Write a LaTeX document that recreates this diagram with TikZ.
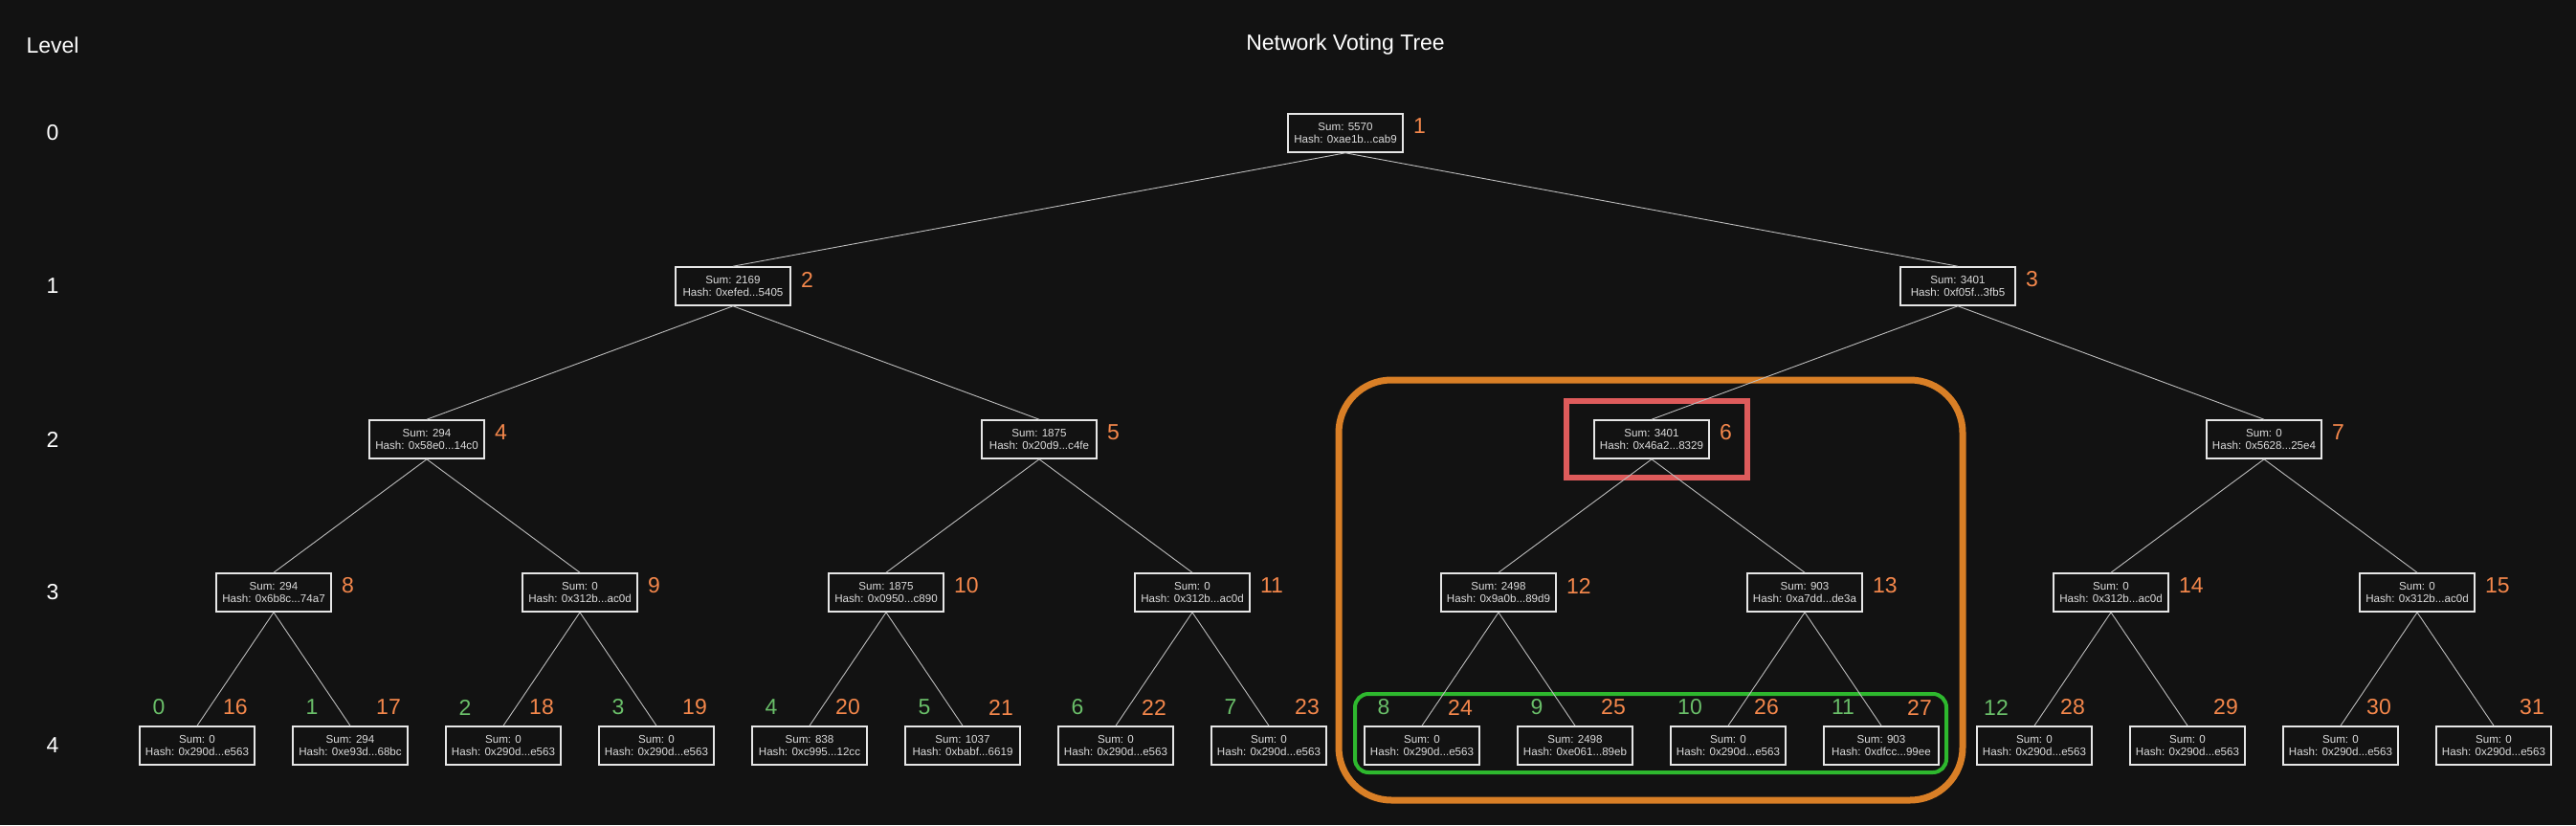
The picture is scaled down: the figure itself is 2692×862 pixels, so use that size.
\documentclass[tikz,border=0pt]{standalone}
\usepackage{fontspec}
\setmainfont{Liberation Sans}
\usetikzlibrary{backgrounds}
\definecolor{bgdark}{HTML}{121212}
\definecolor{boxline}{HTML}{E6E6E6}
\definecolor{boxtext}{HTML}{DCDCDC}
\definecolor{edgegray}{HTML}{BDBDBD}
\definecolor{idorange}{HTML}{F4874B}
\definecolor{leafgreen}{HTML}{6ABF69}
\definecolor{frameorange}{HTML}{D97F26}
\definecolor{framered}{HTML}{DE5B5B}
\definecolor{framegreen}{HTML}{2EB82E}
\newcommand{\hcut}{...}
\tikzset{
  votebox/.style={draw=boxline, line width=1.6pt, fill=bgdark, text=boxtext,
    minimum width=120pt, minimum height=40pt, inner sep=0pt, align=center,
    font=\fontsize{11.6}{13.5}\selectfont},
  edge/.style={draw=edgegray, line width=0.9pt},
  idlab/.style={text=idorange, font=\fontsize{23}{26}\selectfont, inner sep=0pt},
  leaflab/.style={text=leafgreen, font=\fontsize{23}{26}\selectfont, inner sep=0pt},
  levellab/.style={text=white, font=\fontsize{23}{26}\selectfont, inner sep=0pt}
}
\begin{document}
\begin{tikzpicture}[x=1pt,y=-1pt]
  \useasboundingbox (0,0) rectangle (2692,862);
  \node[levellab] (title) at (1406,47) {Network Voting Tree};
  \node[levellab] (lvl) at (55,47) {Level};
  \foreach \l in {0,...,4}
    \node[levellab] (lv\l) at (55,139+160*\l) {\l};
  % tree nodes
  \foreach \n/\x/\y/\s/\h in {1/1406/139/5570/0xae1b\hcut cab9,
      2/766/299/2169/0xefed\hcut 5405, 3/2046/299/3401/0xf05f\hcut 3fb5,
      4/446/459/294/0x58e0\hcut 14c0, 5/1086/459/1875/0x20d9\hcut c4fe,
      6/1726/459/3401/0x46a2\hcut 8329, 7/2366/459/0/0x5628\hcut 25e4,
      8/286/619/294/0x6b8c\hcut 74a7, 9/606/619/0/0x312b\hcut ac0d,
      10/926/619/1875/0x0950\hcut c890, 11/1246/619/0/0x312b\hcut ac0d,
      12/1566/619/2498/0x9a0b\hcut 89d9, 13/1886/619/903/0xa7dd\hcut de3a,
      14/2206/619/0/0x312b\hcut ac0d, 15/2526/619/0/0x312b\hcut ac0d,
      16/206/779/0/0x290d\hcut e563, 17/366/779/294/0xe93d\hcut 68bc,
      18/526/779/0/0x290d\hcut e563, 19/686/779/0/0x290d\hcut e563,
      20/846/779/838/0xc995\hcut 12cc, 21/1006/779/1037/0xbabf\hcut 6619,
      22/1166/779/0/0x290d\hcut e563, 23/1326/779/0/0x290d\hcut e563,
      24/1486/779/0/0x290d\hcut e563, 25/1646/779/2498/0xe061\hcut 89eb,
      26/1806/779/0/0x290d\hcut e563, 27/1966/779/903/0xdfcc\hcut 99ee,
      28/2126/779/0/0x290d\hcut e563, 29/2286/779/0/0x290d\hcut e563,
      30/2446/779/0/0x290d\hcut e563, 31/2606/779/0/0x290d\hcut e563}
    \node[votebox] (n\n) at (\x,\y) {Sum: \s\\Hash: \h};
  \foreach \c in {2,...,31} {
    \pgfmathtruncatemacro\p{\c/2}
    \draw[edge] (n\p.south) -- (n\c.north);
  }
  % index labels
  \foreach \n in {1,...,15}
    \node[idlab, anchor=west] (id\n) at ([xshift=10pt,yshift=7pt]n\n.east) {\n};
  \foreach \n in {16,...,31}
    \node[idlab] (id\n) at ([xshift=40pt,yshift=40pt]n\n.center) {\n};
  \foreach \k in {0,...,12} {
    \pgfmathtruncatemacro\m{\k+16}
    \node[leaflab] (lf\k) at ([xshift=-40pt,yshift=40pt]n\m.center) {\k};
  }
  % highlight frames, under the edges
  \begin{scope}[on background layer]
    \fill[bgdark] (0,0) rectangle (2692,862);
    \draw[frameorange, line width=7pt, rounded corners=55pt] (1399,397) rectangle (2051,836);
    \draw[framered, line width=6pt] ([xshift=-28pt,yshift=19pt]n6.north west) rectangle ([xshift=39pt,yshift=-19pt]n6.south east);
    \draw[framegreen, line width=4pt, rounded corners=14pt] (1416,725) rectangle (2034,807);
  \end{scope}
\end{tikzpicture}
\end{document}
